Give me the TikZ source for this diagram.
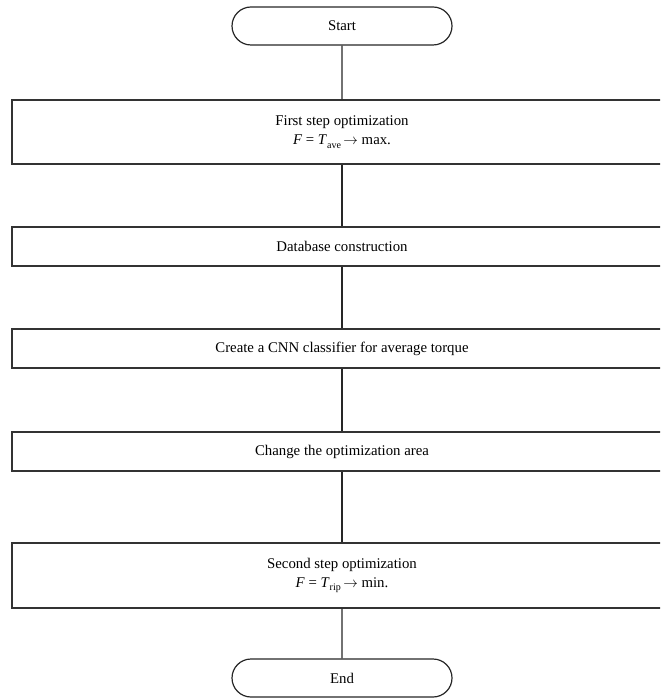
\documentclass[tikz,border=0pt]{standalone}
\usepackage{fontspec}
\setmainfont{Liberation Serif}
\usepackage{tikz}
\usetikzlibrary{positioning,shapes.misc}
\tikzset{
  terminal/.style={rounded rectangle, draw=black!85, line width=0.9pt, minimum width=165pt, minimum height=28.5pt, inner sep=0pt, font=\fontsize{11.1}{13.5}\selectfont},
  procbox/.style={rectangle, draw=black!80, line width=0.9pt, minimum width=495pt, inner sep=0pt, align=center, font=\fontsize{11.1}{14.5}\selectfont},
  flowline/.style={draw=black!85, line width=0.8pt},
}
\newcommand{\lowsub}[1]{\raisebox{-0.45ex}{\fontsize{7.5}{8}\selectfont #1}}

\begin{document}
\begin{tikzpicture}[x=0.75pt, y=-0.75pt]
  \clip (0,0) rectangle (660,698);
  \node[terminal] (start) at (342,26) {Start};
  \node[procbox, minimum height=48pt] (opt1) at (342,132) {First step optimization\\\textit{F} = \textit{T}\lowsub{ave}\,$\rightarrow$ max.};
  \node[procbox, minimum height=29.25pt] (dbase) at (342,246.5) {Database construction};
  \node[procbox, minimum height=29.25pt] (cnn) at (342,348.5) {Create a CNN classifier for average torque};
  \node[procbox, minimum height=29.25pt] (area) at (342,451.5) {Change the optimization area};
  \node[procbox, minimum height=48.75pt] (opt2) at (342,575.5) {Second step optimization\\\textit{F} = \textit{T}\lowsub{rip}\,$\rightarrow$ min.};
  \node[terminal] (stop) at (342,678) {End};

  \draw[flowline] (start) -- (opt1);
  \draw[flowline] (opt1) -- (dbase);
  \draw[flowline] (dbase) -- (cnn);
  \draw[flowline] (cnn) -- (area);
  \draw[flowline] (area) -- (opt2);
  \draw[flowline] (opt2) -- (stop);
\end{tikzpicture}
\end{document}
